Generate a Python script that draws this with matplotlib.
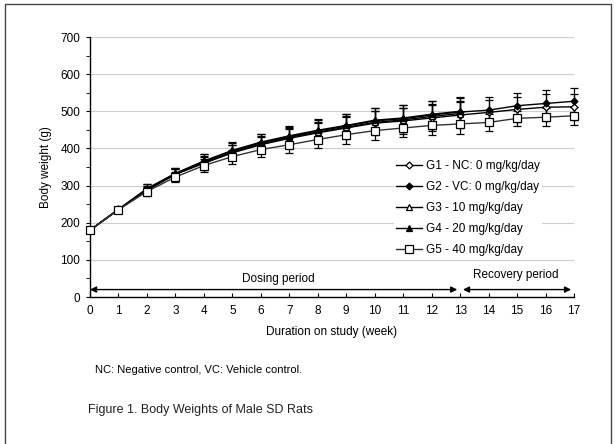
import matplotlib
matplotlib.use("Agg")
import matplotlib.pyplot as plt
from matplotlib.patches import Rectangle
from matplotlib.lines import Line2D

plt.rcParams['font.family'] = ['Liberation Sans', 'DejaVu Sans']

weeks_all = list(range(0, 18))
weeks_dose = list(range(0, 14))

g1 = [180, 236, 287, 330, 360, 388, 410, 427, 442, 455, 468, 474, 482, 490, 497, 505, 511, 512]
g2 = [180, 236, 290, 332, 365, 393, 415, 432, 447, 460, 474, 480, 490, 498, 503, 515, 521, 527]
g3 = [180, 235, 288, 331, 362, 390, 412, 430, 444, 457, 470, 477, 486, 494]
g4 = [180, 236, 292, 333, 366, 395, 417, 434, 449, 462, 476, 482, 492, 500]
g5 = [180, 235, 284, 323, 354, 378, 397, 410, 424, 437, 448, 455, 462, 466, 470, 481, 484, 488]

sd1 = [5, 7, 12, 14, 18, 20, 22, 25, 27, 30, 33, 34, 35, 35, 34, 33, 36, 35]
sd2 = [5, 7, 13, 15, 19, 21, 24, 26, 29, 32, 35, 36, 38, 38, 35, 34, 36, 35]
sd3 = [5, 7, 12, 14, 18, 20, 22, 25, 27, 30, 32, 33, 34, 35]
sd4 = [5, 7, 13, 15, 19, 21, 23, 26, 29, 32, 34, 36, 37, 38]
sd5 = [5, 7, 12, 14, 17, 19, 21, 22, 24, 25, 24, 25, 25, 26, 22, 20, 24, 24]

labels = ["G1 - NC: 0 mg/kg/day", "G2 - VC: 0 mg/kg/day", "G3 - 10 mg/kg/day",
          "G4 - 20 mg/kg/day", "G5 - 40 mg/kg/day"]

fig = plt.figure(figsize=(6.15, 4.44), dpi=100)
ax = fig.add_axes([90/615, 1-297/444, (574-90)/615, (297-37)/444])

series = [
    (weeks_all, g1, sd1, 'D', 'white', 3.5, 'black'),
    (weeks_all, g2, sd2, 'D', 'black', 3.5, 'black'),
    (weeks_dose, g3, sd3, '^', 'white', 4.5, 'black'),
    (weeks_dose, g4, sd4, '^', 'black', 4.5, 'black'),
    (weeks_all, g5, sd5, 's', 'white', 5.5, '#333333'),
]
handles = []
for (x, y, e, m, fc, ms, lc), lab in zip(series, labels):
    cont = ax.errorbar(x, y, yerr=e, color=lc, lw=1.0, marker=m, markersize=ms,
                       markerfacecolor=fc, markeredgecolor='black', markeredgewidth=0.9,
                       ecolor='black', elinewidth=0.9, capsize=3, capthick=0.9,
                       zorder=3)
    for art in cont.get_children():
        art.set_clip_on(False)
    handles.append(Line2D([], [], color=lc, lw=1.0, marker=m, markersize=ms,
                          markerfacecolor=fc, markeredgecolor='black',
                          markeredgewidth=0.9))

ax.set_xlim(0, 17)
ax.set_ylim(0, 700)
ax.set_xticks(range(0, 18))
ax.set_yticks(range(0, 701, 100))
ax.set_yticks(range(50, 700, 100), minor=True)
ax.yaxis.grid(True, color='#cccccc', lw=0.8, zorder=0)
ax.set_axisbelow(True)
for s in ['top', 'right']:
    ax.spines[s].set_visible(False)
ax.spines['left'].set_linewidth(1.0)
ax.spines['bottom'].set_linewidth(1.0)
ax.tick_params(axis='x', direction='in', length=3, labelsize=8.5, pad=6)
ax.tick_params(axis='y', which='both', direction='out', length=3, labelsize=8.5, pad=4)
ax.set_xlabel("Duration on study (week)", fontsize=8.5, labelpad=6)
ax.set_ylabel("Body weight (g)", fontsize=8.5, labelpad=6)

ax.annotate('', xy=(0, 20), xytext=(12.9, 20),
            arrowprops=dict(arrowstyle='<|-|>', color='black', lw=1.0,
                            mutation_scale=9, shrinkA=0, shrinkB=0))
ax.annotate('', xy=(13.1, 20), xytext=(16.9, 20),
            arrowprops=dict(arrowstyle='<|-|>', color='black', lw=1.0,
                            mutation_scale=9, shrinkA=0, shrinkB=0))
ax.text(6.6, 48, "Dosing period", ha='center', va='center', fontsize=8.5)
ax.text(14.95, 58, "Recovery period", ha='center', va='center', fontsize=8.5)

ax.legend(handles=handles, labels=labels, loc='upper left',
          bbox_to_anchor=(388/615, 1-152/444), bbox_transform=fig.transFigure,
          frameon=True, framealpha=1, edgecolor='none', facecolor='white',
          fontsize=8.5, handlelength=2.2, handletextpad=0.3,
          labelspacing=0.75, borderpad=0.2)

fig.text(95/615, 1-370/444, "NC: Negative control, VC: Vehicle control.", fontsize=8,
         ha='left', va='center')
fig.text(88/615, 1-410/444, "Figure 1. Body Weights of Male SD Rats", fontsize=9,
         ha='left', va='center', color='#222222')

fig.patches.append(Rectangle((5/615, -0.02), 606/615, 1-4/444+0.02,
                             transform=fig.transFigure, fill=False,
                             edgecolor='#444444', lw=1.0))

fig.savefig("out.png", dpi=100)
